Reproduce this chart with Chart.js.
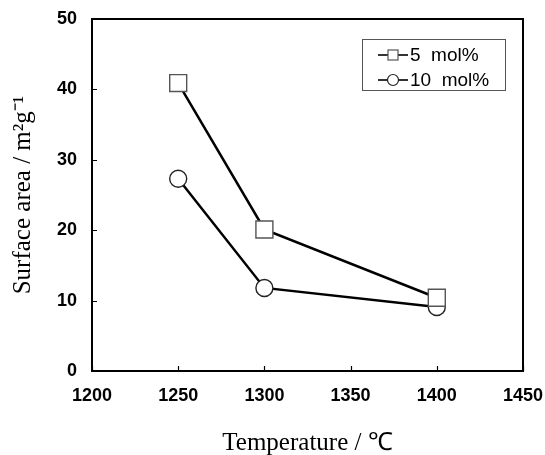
<!DOCTYPE html>
<html>
<head>
<meta charset="utf-8">
<script src="https://cdn.jsdelivr.net/npm/chart.js@4.4.1/dist/chart.umd.min.js"></script>
<style>
  html, body { margin: 0; padding: 0; background: #fff; }
  #wrap { width: 545px; height: 455px; }
</style>
</head>
<body>
<div id="wrap"><canvas id="c" width="545" height="455"></canvas></div>
<script>
// Sintering temperature (°C) and specific surface area (m2/g)
const temperatures = [1250, 1300, 1400];
const area5mol = [40.9, 20.1, 10.4];
const area10mol = [27.3, 11.8, 9.1];
const seriesLabels = ['5  mol%', '10  mol%'];
const xTicks = [1200, 1250, 1300, 1350, 1400, 1450];
const yTicks = [0, 10, 20, 30, 40, 50];

const tickFont = { family: '"Liberation Sans", Arial, sans-serif', size: 18, weight: 'bold' };
const titleFont = { family: '"Liberation Serif", "Times New Roman", serif', size: 25 };

// Frame around the plot plus inward tick marks on the left and bottom axes
const framePlugin = {
  id: 'frame',
  afterDatasetsDraw(chart) {
    const { ctx, chartArea: a, scales } = chart;
    ctx.save();
    ctx.strokeStyle = '#000';
    ctx.lineWidth = 1.2;
    ctx.beginPath();
    scales.x.ticks.forEach(t => {
      const px = Math.round(scales.x.getPixelForValue(t.value)) + 0.5;
      ctx.moveTo(px, a.bottom);
      ctx.lineTo(px, a.bottom - 5);
    });
    scales.y.ticks.forEach(t => {
      const py = Math.round(scales.y.getPixelForValue(t.value)) + 0.5;
      ctx.moveTo(a.left, py);
      ctx.lineTo(a.left + 5, py);
    });
    ctx.stroke();
    ctx.lineWidth = 2;
    ctx.strokeRect(a.left, a.top, a.right - a.left, a.bottom - a.top);
    ctx.restore();
  }
};

// Boxed legend inside the plot, showing line + marker for each series
const boxLegend = {
  id: 'boxLegend',
  afterDraw(chart) {
    const { ctx } = chart;
    const x0 = 362, y0 = 39, w = 143, h = 51;
    ctx.save();
    ctx.fillStyle = '#fff';
    ctx.fillRect(x0, y0, w, h);
    ctx.strokeStyle = '#555';
    ctx.lineWidth = 1;
    ctx.strokeRect(x0 + 0.5, y0 + 0.5, w, h);
    chart.data.datasets.forEach((ds, i) => {
      const cy = y0 + 16 + i * 25;
      ctx.strokeStyle = '#000';
      ctx.lineWidth = 1.6;
      ctx.beginPath();
      ctx.moveTo(378, cy);
      ctx.lineTo(408, cy);
      ctx.stroke();
      ctx.fillStyle = '#fff';
      ctx.strokeStyle = ds.pointBorderColor;
      ctx.lineWidth = 1.2;
      if (ds.pointStyle === 'rect') {
        ctx.fillRect(388, cy - 5, 10, 10);
        ctx.strokeRect(388, cy - 5, 10, 10);
      } else {
        ctx.beginPath();
        ctx.arc(393, cy, 5.5, 0, Math.PI * 2);
        ctx.fill();
        ctx.stroke();
      }
      ctx.fillStyle = '#000';
      ctx.font = '19px "Liberation Sans", Arial, sans-serif';
      ctx.textBaseline = 'middle';
      ctx.fillText(ds.label, 410, cy + 1);
    });
    ctx.restore();
  }
};

new Chart(document.getElementById('c'), {
  type: 'line',
  data: {
    datasets: [
      {
        label: seriesLabels[0],
        data: temperatures.map((t, i) => ({ x: t, y: area5mol[i] })),
        borderColor: '#000',
        borderWidth: 2.5,
        pointStyle: 'rect',
        pointRadius: 12,
        pointBackgroundColor: '#fff',
        pointBorderColor: '#555',
        pointBorderWidth: 1.4,
        tension: 0
      },
      {
        label: seriesLabels[1],
        data: temperatures.map((t, i) => ({ x: t, y: area10mol[i] })),
        borderColor: '#000',
        borderWidth: 2.5,
        pointStyle: 'circle',
        pointRadius: 8.5,
        pointBackgroundColor: '#fff',
        pointBorderColor: '#222',
        pointBorderWidth: 1.4,
        tension: 0
      }
    ]
  },
  options: {
    responsive: false,
    animation: false,
    layout: { padding: { top: 19, right: 22, left: 0, bottom: 0 } },
    plugins: { legend: { display: false }, tooltip: { enabled: false } },
    scales: {
      x: {
        type: 'linear',
        min: xTicks[0],
        max: xTicks[xTicks.length - 1],
        afterBuildTicks: s => { s.ticks = xTicks.map(v => ({ value: v })); },
        afterFit: s => { s.height = 84; s.paddingLeft = 0; s.paddingRight = 0; },
        grid: { display: false },
        border: { display: false },
        ticks: { color: '#000', font: tickFont, padding: 6, maxRotation: 0, callback: v => String(v) },
        title: { display: true, text: 'Temperature / ℃', color: '#000', font: titleFont, padding: { top: 0, bottom: -3 } }
      },
      y: {
        min: yTicks[0],
        max: yTicks[yTicks.length - 1],
        afterBuildTicks: s => { s.ticks = yTicks.map(v => ({ value: v })); },
        afterFit: s => { s.width = 92; s.paddingTop = 0; s.paddingBottom = 0; },
        grid: { display: false },
        border: { display: false },
        ticks: { color: '#000', font: tickFont, padding: 7, callback: v => String(v) },
        title: { display: true, text: 'Surface area / m²g⁻¹', color: '#000', font: titleFont, padding: { top: 8, bottom: 0 } }
      }
    }
  },
  plugins: [framePlugin, boxLegend]
});
</script>
</body>
</html>
